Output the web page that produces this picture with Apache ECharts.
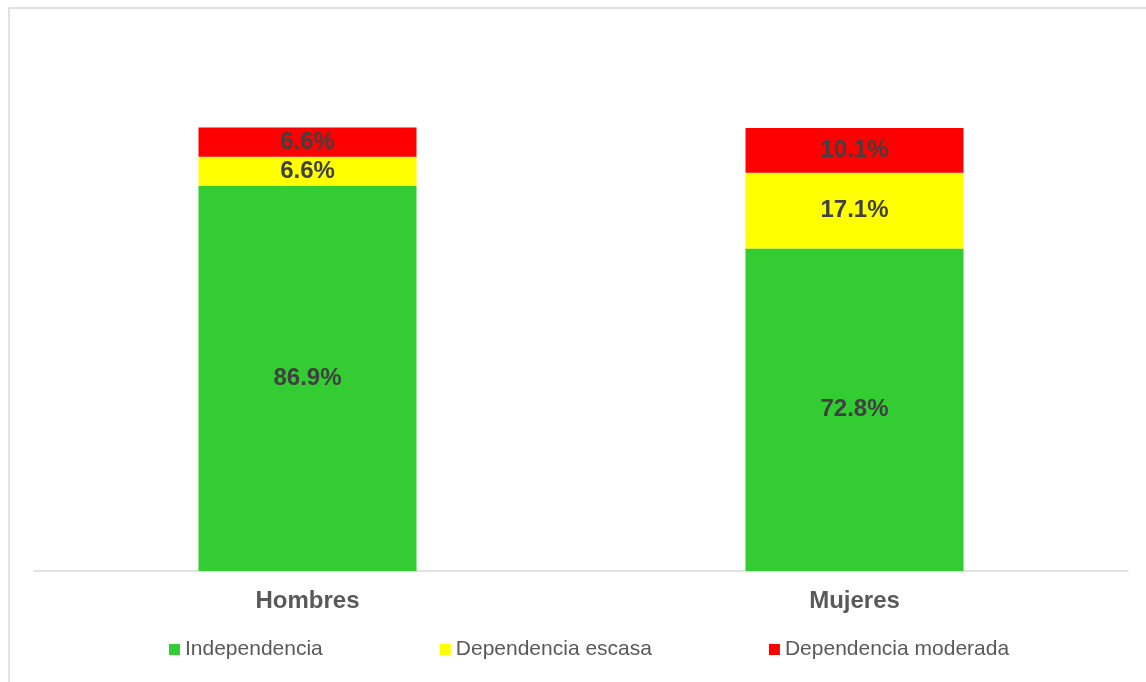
<!DOCTYPE html>
<html>
<head>
<meta charset="utf-8">
<script src="https://cdn.jsdelivr.net/npm/echarts@6/dist/echarts.min.js"></script>
<style>html,body{margin:0;padding:0;background:#fff}#c{width:1146px;height:682px}</style>
</head>
<body>
<div id="c"></div>
<script>
const categories = ['Hombres', 'Mujeres'];
const seriesNames = ['Independencia', 'Dependencia escasa', 'Dependencia moderada'];
const independencia = [86.9, 72.8];
const escasa = [6.6, 17.1];
const moderada = [6.6, 10.1];
const colors = ['#33CC33', '#FFFF00', '#FF0000'];

const chart = echarts.init(document.getElementById('c'));
const font = 'Liberation Sans, Arial, sans-serif';
function mk(name, data, color) {
  return {
    name: name, type: 'bar', stack: 'total', data: data, barWidth: 218,
    itemStyle: { color: color },
    label: {
      show: true, position: 'inside', color: '#404040', fontWeight: 'bold',
      fontSize: 24, fontFamily: font,
      formatter: p => p.value.toFixed(1) + '%'
    }
  };
}
chart.setOption({
  animation: false,
  graphic: [{
    type: 'rect', left: 6.5, top: 5.5, shape: { width: 1200, height: 700 },
    style: { fill: 'none', stroke: '#d9d9d9', lineWidth: 1.5 }, silent: true, z: -1
  }],
  legend: {
    data: seriesNames, left: 169, top: 639, padding: 0, itemWidth: 11, itemHeight: 11, itemGap: 117,
    icon: 'rect',
    textStyle: { color: '#595959', fontSize: 21, fontFamily: font }
  },
  grid: { left: 34, right: 18, top: 39.4, bottom: 111 },
  xAxis: {
    type: 'category', data: categories,
    axisLine: { lineStyle: { color: '#d9d9d9', width: 1.5 } },
    axisTick: { show: false },
    axisLabel: { color: '#595959', fontWeight: 'bold', fontSize: 24, fontFamily: font, margin: 18 }
  },
  yAxis: {
    type: 'value', min: 0, max: 120, show: false, splitLine: { show: false }
  },
  series: [
    mk(seriesNames[0], independencia, colors[0]),
    mk(seriesNames[1], escasa, colors[1]),
    mk(seriesNames[2], moderada, colors[2])
  ]
});
</script>
</body>
</html>
